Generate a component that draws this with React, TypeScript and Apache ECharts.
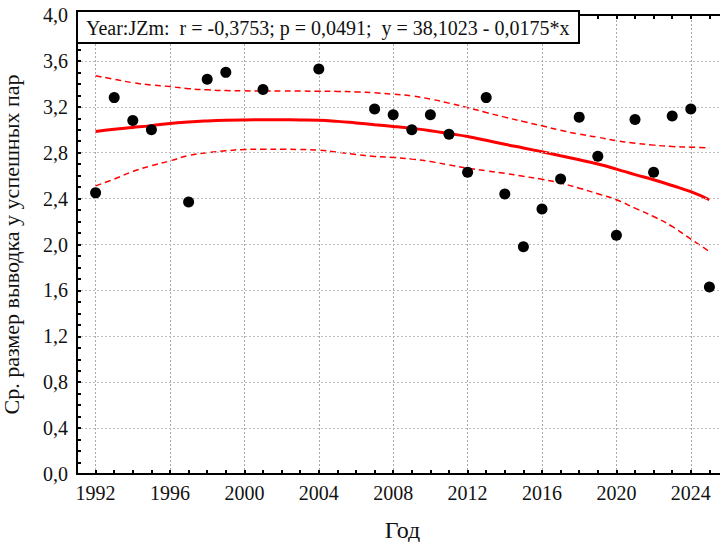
import React, { useEffect, useRef } from "react";
import * as echarts from "echarts";

const pointYears = [1992, 1993, 1994, 1995, 1997, 1998, 1999, 2001, 2004, 2007, 2008, 2009, 2010, 2011, 2012, 2013, 2014, 2015, 2016, 2017, 2018, 2019, 2020, 2021, 2022, 2023, 2024, 2025];
const pointValues = [2.45, 3.28, 3.08, 3.0, 2.37, 3.44, 3.5, 3.35, 3.53, 3.18, 3.13, 3.0, 3.13, 2.96, 2.63, 3.28, 2.44, 1.98, 2.31, 2.57, 3.11, 2.77, 2.08, 3.09, 2.63, 3.12, 3.18, 1.63];

const curveYears = [1992, 1993, 1994, 1995, 1996, 1997, 1998, 1999, 2000, 2001, 2002, 2003, 2004, 2005, 2006, 2007, 2008, 2009, 2010, 2011, 2012, 2013, 2014, 2015, 2016, 2017, 2018, 2019, 2020, 2021, 2022, 2023, 2024, 2025];
const fitValues = [2.985, 3.005, 3.02, 3.036, 3.055, 3.068, 3.077, 3.083, 3.086, 3.087, 3.087, 3.086, 3.083, 3.073, 3.059, 3.044, 3.029, 3.012, 2.992, 2.967, 2.941, 2.908, 2.873, 2.841, 2.808, 2.773, 2.738, 2.701, 2.657, 2.609, 2.564, 2.514, 2.46, 2.39];
const upperValues = [3.47, 3.44, 3.41, 3.39, 3.376, 3.358, 3.348, 3.341, 3.339, 3.338, 3.338, 3.337, 3.336, 3.334, 3.33, 3.322, 3.31, 3.295, 3.267, 3.232, 3.193, 3.15, 3.11, 3.071, 3.034, 2.995, 2.962, 2.935, 2.905, 2.883, 2.866, 2.854, 2.848, 2.842];
const lowerValues = [2.511, 2.57, 2.636, 2.686, 2.729, 2.775, 2.8, 2.816, 2.828, 2.83, 2.83, 2.828, 2.822, 2.805, 2.785, 2.767, 2.759, 2.744, 2.723, 2.694, 2.665, 2.642, 2.62, 2.594, 2.568, 2.535, 2.491, 2.442, 2.39, 2.317, 2.244, 2.157, 2.047, 1.939];

const xTickLabels = [1992, 1996, 2000, 2004, 2008, 2012, 2016, 2020, 2024];
const yTicks = [0, 0.4, 0.8, 1.2, 1.6, 2.0, 2.4, 2.8, 3.2, 3.6, 4.0];

const statText = "Year:JZm:  r = -0,3753; p = 0,0491;  y = 38,1023 - 0,0175*x";
const xName = "Год";
const yName = "Ср. размер выводка у успешных пар";

const FONT = "Liberation Serif, serif";

export default function App() {
  const ref = useRef<HTMLDivElement>(null);
  useEffect(() => {
    if (!ref.current) return;
    const chart = echarts.init(ref.current, null, { renderer: "svg" });
    const gridColor = "#bdbdbd";
    const vGridColor = "#a8a8a8";
    const gridDash = [2, 2];
    const yMin = yTicks[0];
    const yMax = yTicks[yTicks.length - 1];
    const lbl = (size: number) => ({ fontFamily: FONT, fontSize: size, color: "#111" });
    const axisCommon = {
      type: "value" as const,
      min: 1991,
      max: 2026,
      interval: 1,
    };
    const option: any = {
      animation: false,
      backgroundColor: "#ffffff",
      textStyle: { fontFamily: FONT },
      grid: { left: 77, top: 15, width: 651, height: 459, containLabel: false, outerBoundsMode: "none" },
      xAxis: [
        {
          ...axisCommon,
          position: "bottom",
          name: xName,
          nameLocation: "middle",
          nameGap: 44,
          nameTextStyle: lbl(24),
          axisLine: { show: true, onZero: false, lineStyle: { color: "#000", width: 2 } },
          axisTick: { show: true, inside: true, length: 4, lineStyle: { color: "#000", width: 2 } },
          axisLabel: {
            show: true,
            margin: 9,
            ...lbl(20),
            formatter: (v: number) => (xTickLabels.includes(v) ? String(v) : ""),
          },
          splitLine: { show: false },
          z: 5,
        },
        {
          ...axisCommon,
          position: "top",
          axisLine: { show: true, onZero: false, lineStyle: { color: "#000", width: 2 } },
          axisTick: { show: true, inside: true, length: 4, lineStyle: { color: "#000", width: 2 } },
          axisLabel: { show: false },
          splitLine: { show: false },
          z: 5,
        },
      ],
      yAxis: [
        {
          type: "value",
          min: yMin,
          max: yMax,
          interval: 0.4,
          position: "left",
          name: yName,
          nameLocation: "middle",
          nameGap: 55,
          nameRotate: 90,
          nameTextStyle: lbl(22),
          axisLine: { show: true, onZero: false, lineStyle: { color: "#000", width: 2 } },
          axisTick: { show: true, inside: true, length: 4, lineStyle: { color: "#000", width: 2 } },
          minorTick: { show: true, splitNumber: 4, length: 4, lineStyle: { color: "#000", width: 2 } },
          axisLabel: {
            margin: 9,
            ...lbl(20),
            formatter: (v: number) => (yTicks.some((t) => Math.abs(t - v) < 1e-6) ? v.toFixed(1).replace(".", ",") : ""),
          },
          splitLine: { show: true, lineStyle: { color: gridColor, type: gridDash, width: 1 } },
          z: 5,
        },
        {
          type: "value",
          min: yMin,
          max: yMax,
          interval: 0.4,
          position: "right",
          axisLine: { show: true, onZero: false, lineStyle: { color: "#000", width: 2 } },
          axisTick: { show: true, inside: true, length: 4, lineStyle: { color: "#000", width: 2 } },
          axisLabel: { show: false },
          splitLine: { show: false },
        },
      ],
      series: [
        {
          type: "line",
          name: "upper",
          data: curveYears.map((y, i) => [y, upperValues[i]]),
          smooth: true,
          showSymbol: false,
          symbol: "none",
          lineStyle: { color: "#ff0000", width: 1.5, type: [6, 4] },
          z: 3,
        },
        {
          type: "line",
          name: "lower",
          data: curveYears.map((y, i) => [y, lowerValues[i]]),
          smooth: true,
          showSymbol: false,
          symbol: "none",
          lineStyle: { color: "#ff0000", width: 1.5, type: [6, 4] },
          z: 3,
        },
        {
          type: "line",
          name: "fit",
          data: curveYears.map((y, i) => [y, fitValues[i]]),
          smooth: true,
          showSymbol: false,
          symbol: "none",
          lineStyle: { color: "#ff0000", width: 3 },
          z: 4,
        },
        {
          type: "scatter",
          name: "data",
          data: pointYears.map((y, i) => [y, pointValues[i]]),
          symbol: "circle",
          symbolSize: 11,
          itemStyle: { color: "#000", opacity: 1 },
          z: 5,
          markLine: {
            silent: true,
            symbol: ["none", "none"],
            label: { show: false },
            lineStyle: { color: vGridColor, type: gridDash, width: 1, opacity: 1 },
            data: xTickLabels.map((yr) => [
              { coord: [yr, yMin] },
              { coord: [yr, yMax] },
            ]),
            z: 1,
          },
        },
      ],
      graphic: [
        {
          type: "rect",
          z: 100,
          shape: { x: 77, y: 11, width: 502, height: 32 },
          style: { fill: "#fff", stroke: "#000", lineWidth: 2 },
        },
        {
          type: "text",
          z: 101,
          x: 86,
          y: 28,
          style: {
            text: statText,
            fill: "#111",
            font: `20px ${FONT}`,
            verticalAlign: "middle",
            align: "left",
          },
        },
      ],
    };
    chart.setOption(option);
    return () => chart.dispose();
  }, []);
  return (
    <div style={{ position: "fixed", left: 0, top: 0, width: 720, height: 542, overflow: "hidden", background: "#fff" }}>
      <div ref={ref} style={{ width: 740, height: 542 }} />
    </div>
  );
}
